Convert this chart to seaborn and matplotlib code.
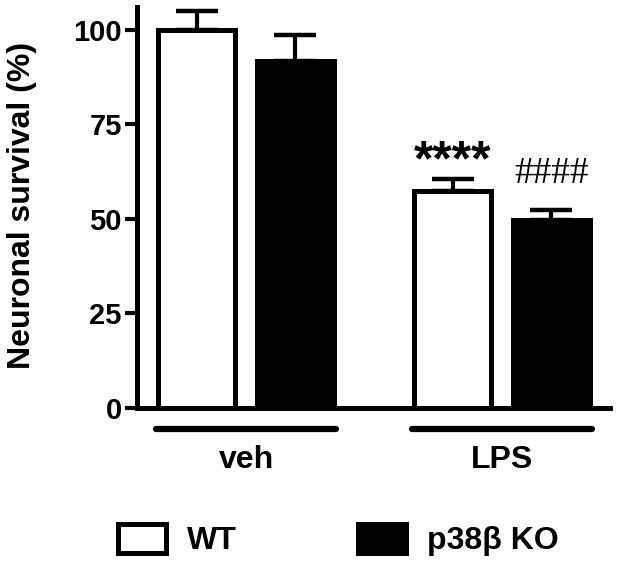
import matplotlib
matplotlib.use("Agg")
import matplotlib.pyplot as plt
from matplotlib.patches import Patch
import seaborn as sns
import pandas as pd
import numpy as np

# ---- data ----
treatments = ["veh", "LPS"]
genotypes = ["WT", "p38\u03b2 KO"]
wt_mean = [100.0, 57.4]
wt_sem = [5.0, 3.2]
ko_mean = [91.8, 49.7]
ko_sem = [6.9, 2.7]
y_ticks = [0, 25, 50, 75, 100]
ylabel = "Neuronal survival (%)"
annotations = {"WT": ["", "****"], "p38\u03b2 KO": ["", "####"]}

df = pd.DataFrame({
    "treatment": treatments * 2,
    "genotype": [genotypes[0]] * 2 + [genotypes[1]] * 2,
    "survival": wt_mean + ko_mean,
    "sem": wt_sem + ko_sem,
})

sns.set_style("ticks")
plt.rcParams["font.family"] = ["Liberation Sans", "DejaVu Sans"]
plt.rcParams["font.weight"] = "bold"
for k in ["text.color", "axes.labelcolor", "xtick.color", "ytick.color",
          "axes.edgecolor"]:
    plt.rcParams[k] = "black"

fig = plt.figure(figsize=(6.19, 5.66), dpi=100)
ax = fig.add_axes([137 / 619, 158 / 566, 473 / 619, 401 / 566])

palette = {genotypes[0]: "white", genotypes[1]: "black"}
sns.barplot(data=df, x="treatment", y="survival", hue="genotype",
            order=treatments, hue_order=genotypes, palette=palette,
            edgecolor="black", linewidth=3.6, width=0.77, gap=0.22,
            errorbar=None, legend=False, ax=ax, zorder=2)

# error bars (upper only) and significance marks
for cont, g in zip(ax.containers, genotypes):
    sub = df[df["genotype"] == g].set_index("treatment").loc[treatments]
    xs = [p.get_x() + p.get_width() / 2 for p in cont.patches]
    ys = sub["survival"].values
    es = sub["sem"].values
    ax.errorbar(xs, ys, yerr=[np.zeros_like(es), es], fmt="none",
                ecolor="black", elinewidth=3, capsize=15, capthick=3.2,
                zorder=1)
    for x, y, e, lab in zip(xs, ys, es, annotations[g]):
        if not lab:
            continue
        if lab.startswith("*"):
            ax.text(x, y + e + 4.4, lab, ha="center", va="center",
                    fontsize=36, fontweight="bold", family="Liberation Sans",
                    color="black")
        else:
            ax.text(x, y + e + 9.6, lab, ha="center", va="center",
                    fontsize=27, fontweight="normal", family="Liberation Serif",
                    color="black")

ax.set_ylim(0, 106)
ax.set_xlim(-0.426, 1.422)
ax.set_yticks(y_ticks)
ax.set_yticklabels([str(t) for t in y_ticks], fontsize=21, fontweight="bold",
                   color="black")
ax.set_xticks(range(len(treatments)))
ax.set_xticklabels(treatments, fontsize=23, fontweight="bold", color="black")
ax.tick_params(axis="y", length=9, width=3, pad=2, color="black")
ax.tick_params(axis="x", length=0, pad=27)
for s in ["top", "right"]:
    ax.spines[s].set_visible(False)
for s in ["left", "bottom"]:
    ax.spines[s].set_linewidth(3.6)
    ax.spines[s].set_color("black")

ax.set_xlabel("")
ax.set_ylabel(ylabel, fontsize=23, fontweight="bold", color="black")
ax.yaxis.set_label_coords(-0.243, 0.506)
ax.yaxis.label.set_va("center")

# group underlines
trans = ax.get_xaxis_transform()
for i in range(len(treatments)):
    ax.plot([i - 0.35, i + 0.35], [-0.052, -0.052], transform=trans,
            color="black", lw=4.5, solid_capstyle="round", clip_on=False)

handles = [Patch(facecolor=palette[g], edgecolor="black", linewidth=3.6)
           for g in genotypes]
fig.legend(handles, genotypes, loc="center left",
           bbox_to_anchor=(118 / 619, 26 / 566), ncol=2, frameon=False,
           prop={"family": "Liberation Sans", "weight": "bold", "size": 23},
           handlelength=1.5, handleheight=1.05, handletextpad=0.65,
           columnspacing=3.8, borderpad=0, borderaxespad=0,
           labelcolor="black")

fig.savefig("out.png", dpi=100)
